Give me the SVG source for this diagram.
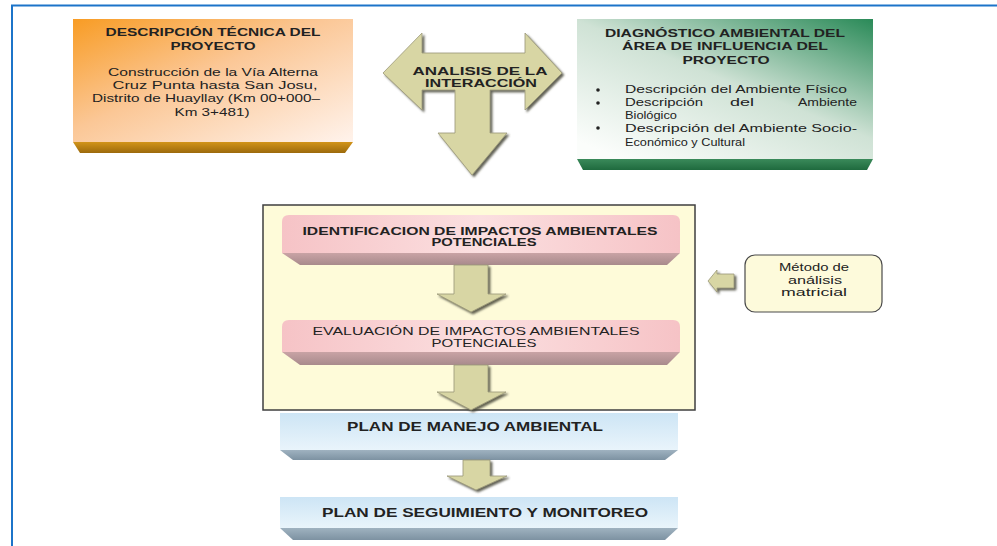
<svg xmlns="http://www.w3.org/2000/svg" width="997" height="546" viewBox="0 0 997 546">
  <defs>
    <linearGradient id="gOrange" x1="0" y1="0" x2="1" y2="1">
      <stop offset="0" stop-color="#f89c24"/>
      <stop offset="0.45" stop-color="#fbc796"/>
      <stop offset="1" stop-color="#fff3ec"/>
    </linearGradient>
    <linearGradient id="gOrangeBevel" x1="0" y1="0" x2="0" y2="1">
      <stop offset="0" stop-color="#d29419"/>
      <stop offset="1" stop-color="#9c6a0c"/>
    </linearGradient>
    <linearGradient id="gGreen" x1="1" y1="0" x2="0.15" y2="1">
      <stop offset="0" stop-color="#2a8a58"/>
      <stop offset="0.5" stop-color="#cfe2d5"/>
      <stop offset="1" stop-color="#fbfdfb"/>
    </linearGradient>
    <linearGradient id="gGreenBevel" x1="0" y1="0" x2="0" y2="1">
      <stop offset="0" stop-color="#3a8a5a"/>
      <stop offset="1" stop-color="#1f6a3e"/>
    </linearGradient>
    <linearGradient id="gPink" x1="0" y1="0" x2="1" y2="0">
      <stop offset="0" stop-color="#f6c3c6"/>
      <stop offset="0.5" stop-color="#fbdfe0"/>
      <stop offset="1" stop-color="#f6c3c6"/>
    </linearGradient>
    <linearGradient id="gPinkBevel" x1="0" y1="0" x2="0" y2="1">
      <stop offset="0" stop-color="#c9a3a5"/>
      <stop offset="1" stop-color="#a88a8c"/>
    </linearGradient>
    <linearGradient id="gBlue" x1="0" y1="0" x2="0" y2="1">
      <stop offset="0" stop-color="#cde5f5"/>
      <stop offset="1" stop-color="#e9f4fb"/>
    </linearGradient>
    <linearGradient id="gBlueBevel" x1="0" y1="0" x2="0" y2="1">
      <stop offset="0" stop-color="#9fb2c0"/>
      <stop offset="1" stop-color="#7d92a2"/>
    </linearGradient>
    <filter id="shadow" x="-10%" y="-10%" width="130%" height="130%">
      <feDropShadow dx="2" dy="2" stdDeviation="1" flood-color="#4a4a3a" flood-opacity="0.85"/>
    </filter>
  </defs>
  <style>
    .t { font-family: "Liberation Sans", Arial, sans-serif; fill: #222; font-size: 11px; }
    .b { font-weight: bold; }
    .c { text-anchor: middle; }
    .big { font-size: 12.5px; }
    .arrow { fill: #d8d6a4; stroke: #9a9878; stroke-width: 0.8; filter: url(#shadow); }
    .frame { stroke: #1c74c9; stroke-width: 2; fill: none; }
  </style>

  <rect width="997" height="546" fill="#ffffff"/>
  <!-- page frame -->
  <polyline class="frame" points="12,546 12,5.5 997,5.5"/>

  <!-- project description -->
  <g id="descripcion">
    <rect x="73" y="19" width="280" height="123" fill="url(#gOrange)"/>
    <polygon points="73,142 353,142 345,153 80,153" fill="url(#gOrangeBevel)"/>
    <text class="t b c" x="213" y="36" textLength="215" lengthAdjust="spacingAndGlyphs">DESCRIPCIÓN TÉCNICA DEL</text>
    <text class="t b c" x="213" y="50" textLength="85" lengthAdjust="spacingAndGlyphs">PROYECTO</text>
    <text class="t c" x="213" y="76" textLength="210" lengthAdjust="spacingAndGlyphs">Construcción de la Vía Alterna</text>
    <text class="t c" x="215" y="89" textLength="205" lengthAdjust="spacingAndGlyphs">Cruz Punta  hasta San Josu,</text>
    <text class="t c" x="206" y="102" textLength="228" lengthAdjust="spacingAndGlyphs">Distrito de Huayllay (Km 00+000–</text>
    <text class="t c" x="212" y="116" textLength="75" lengthAdjust="spacingAndGlyphs">Km 3+481)</text>
  </g>

  <!-- environmental diagnosis -->
  <g id="diagnostico">
    <rect x="577" y="19" width="296" height="140" fill="url(#gGreen)"/>
    <polygon points="577,159 873,159 867,170 583,170" fill="url(#gGreenBevel)"/>
    <text class="t b c" x="725" y="37" textLength="240" lengthAdjust="spacingAndGlyphs">DIAGNÓSTICO AMBIENTAL DEL</text>
    <text class="t b c" x="725" y="50" textLength="206" lengthAdjust="spacingAndGlyphs">ÁREA DE INFLUENCIA DEL</text>
    <text class="t b c" x="726" y="64" textLength="87" lengthAdjust="spacingAndGlyphs">PROYECTO</text>
    <g fill="#222">
      <circle cx="598" cy="90" r="1.8"/>
      <circle cx="598" cy="103" r="1.8"/>
      <circle cx="598" cy="128" r="1.8"/>
    </g>
    <text class="t" x="625" y="93" textLength="222" lengthAdjust="spacingAndGlyphs">Descripción del Ambiente Físico</text>
    <text class="t" x="625" y="106" textLength="78" lengthAdjust="spacingAndGlyphs">Descripción</text>
    <text class="t" x="730" y="106" textLength="24" lengthAdjust="spacingAndGlyphs">del</text>
    <text class="t" x="798" y="106" textLength="59" lengthAdjust="spacingAndGlyphs">Ambiente</text>
    <text class="t" x="625" y="119" textLength="52" lengthAdjust="spacingAndGlyphs">Biológico</text>
    <text class="t" x="625" y="132" textLength="232" lengthAdjust="spacingAndGlyphs">Descripción del Ambiente Socio-</text>
    <text class="t" x="625" y="146" textLength="120" lengthAdjust="spacingAndGlyphs">Económico y Cultural</text>
  </g>

  <!-- interaction analysis T-arrow -->
  <g id="analisis">
    <polygon class="arrow" points="383,73 422,33 422,53 525,53 525,33 562,73 525,110 525,90 490,90 490,133 507,133 472,175 438,133 455,133 455,90 422,90 422,110"/>
    <text class="t b c" x="480" y="75" textLength="135" lengthAdjust="spacingAndGlyphs">ANALISIS DE LA</text>
    <text class="t b c" x="481" y="87" textLength="112" lengthAdjust="spacingAndGlyphs">INTERACCIÓN</text>
  </g>

  <!-- impact assessment container -->
  <g id="evaluacion-marco">
    <rect x="263" y="205" width="432" height="205" fill="#fefbd9" stroke="#3f3f3f" stroke-width="1.5"/>
  </g>

  <g id="identificacion">
    <path d="M282,253 V222 Q282,215 289,215 H673 Q680,215 680,222 V253 Z" fill="url(#gPink)"/>
    <polygon points="282,253 680,253 667,265 300,265" fill="url(#gPinkBevel)"/>
    <text class="t b c" x="480" y="235" textLength="355" lengthAdjust="spacingAndGlyphs">IDENTIFICACION DE IMPACTOS AMBIENTALES</text>
    <text class="t b c" x="484" y="246" textLength="105" lengthAdjust="spacingAndGlyphs">POTENCIALES</text>
  </g>

  <g id="evaluacion">
    <path d="M282,352 V327 Q282,320 289,320 H673 Q680,320 680,327 V352 Z" fill="url(#gPink)"/>
    <polygon points="282,352 680,352 667,365 300,365" fill="url(#gPinkBevel)"/>
    <text class="t c" x="476" y="335" textLength="327" lengthAdjust="spacingAndGlyphs">EVALUACIÓN DE IMPACTOS AMBIENTALES</text>
    <text class="t c" x="484" y="347" textLength="105" lengthAdjust="spacingAndGlyphs">POTENCIALES</text>
  </g>

  <g id="metodo">
    <rect x="745" y="255" width="137" height="57" rx="10" fill="#fdfadb" stroke="#4a4a4a" stroke-width="1.2"/>
    <text class="t c" x="814" y="271" textLength="70" lengthAdjust="spacingAndGlyphs">Método de</text>
    <text class="t c" x="815" y="283.5" textLength="54" lengthAdjust="spacingAndGlyphs">análisis</text>
    <text class="t c" x="814" y="296" textLength="66" lengthAdjust="spacingAndGlyphs">matricial</text>
  </g>

  <g id="plan-manejo">
    <rect x="280" y="413" width="398" height="37" fill="url(#gBlue)"/>
    <polygon points="280,450 678,450 665,460 293,460" fill="url(#gBlueBevel)"/>
    <text class="t b c big" x="475" y="431" textLength="256" lengthAdjust="spacingAndGlyphs">PLAN DE MANEJO AMBIENTAL</text>
  </g>

  <g id="plan-seguimiento">
    <rect x="280" y="497" width="398" height="31" fill="url(#gBlue)"/>
    <polygon points="280,528 678,528 665,540 293,540" fill="url(#gBlueBevel)"/>
    <text class="t b c big" x="485" y="517" textLength="326" lengthAdjust="spacingAndGlyphs">PLAN DE SEGUIMIENTO Y MONITOREO</text>
  </g>

  <!-- block-arrow connectors -->
  <g id="conectores">
    <polygon class="arrow" points="454,265 488,265 488,294 506,294 471,312 437,294 454,294"/>
    <polygon class="arrow" points="454,365 488,365 488,392 506,392 471,410 437,392 454,392"/>
    <polygon class="arrow" points="463,460 490,460 490,476 507,476 476,490 447,476 463,476"/>
    <polygon class="arrow" points="708,281 717,270 717,274 734,274 734,288 717,288 717,292"/>
  </g>
</svg>
